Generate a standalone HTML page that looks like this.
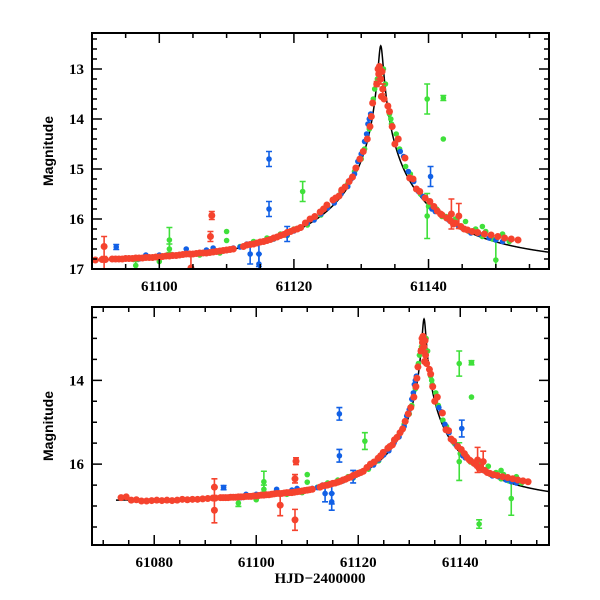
<!DOCTYPE html>
<html><head><meta charset="utf-8"><style>
html,body{margin:0;padding:0;background:#fff;}
svg{display:block;}
.tl{font-family:"Liberation Serif",serif;font-size:15px;font-weight:bold;fill:#000;}
.yl{font-family:"Liberation Sans",sans-serif;font-size:14px;font-weight:bold;fill:#000;}
</style></head><body>
<svg id="chart" width="600" height="600" viewBox="0 0 600 600" xmlns="http://www.w3.org/2000/svg">
<defs>
<clipPath id="clipTop"><rect x="92" y="33" width="457" height="236"/></clipPath>
<clipPath id="clipBot"><rect x="92" y="307" width="457" height="238"/></clipPath>
</defs>
</svg>
<script>
// ---- data ----
const redT = [61073.5,61074.5,61075.5,61076.5,61077.5,61078.5,61079.5,61080.5,61081.5,61082.5,61083.5,61084.5,61085.5,61086.5,61087.5,61088.5,61089.5,61090.5,61091.5,61092,61093,61094,61095,61096,61097,61098,61099,61100,61101,61102,61103,61104,61105,61106,61107,61108,61109,61110,61111,61113,61114,61115,61116,61117,61118,61119,61120,61121,61122.4,61123.9,61124.9,61126.7,61127.6,61128.7,61129.8,61130.9,61131.7,61132.3,61132.6,61132.9,61133.2,61133.96,61135,61137.2,61138.2,61140.2,61141.3,61142,61142.7,61143.3,61144,61145.3,61147.3,61149.3,61151.3,61153.3,61091.8,61091.8,61104.7,61107.8,61107.6,61107.6,61143.4,61144.5,
61093.5,61094.5,61095.5,61096.5,61097.5,61098.5,61099.5,61100.5,61101.5,61102.5,61103.5,61104.5,61105.5,61106.5,61107.5,61108.5,61109.5,61110.5,61112.5,61113.5,61114.5,61115.5,61116.5,61117.5,61118.5,61119.5,61120.5,61121.7,61123.1,61124.4,61125.8,61126.2,61127.1,61128.2,61129.2,61130.3,61131.3,61131.5,61132.5,61132.7,61133,61133.1,61133.4,61134.2,61134.6,61135.5,61136.5,61137.7,61138.7,61139.5,61140.8,61141.8,61143.7,61144.8,61145.8,61146.5,61148.3,61150.3,61152.3];
const redMag = [16.80,16.78,16.86,16.85,16.88,16.88,16.87,16.86,16.87,16.86,16.87,16.86,16.84,16.85,16.84,16.84,16.83,16.82,16.81,16.81,16.80,16.80,16.79,16.79,16.78,16.77,16.77,16.76,16.74,16.73,16.72,16.70,16.70,16.68,16.68,16.66,16.64,16.62,16.60,16.52,16.50,16.46,16.43,16.38,16.33,16.27,16.22,16.17,16.00,15.86,15.72,15.54,15.36,15.16,14.80,14.40,13.68,13.30,13.10,13.20,13.40,13.74,14.50,15.18,15.40,15.65,15.84,15.92,15.98,16.04,16.08,16.20,16.27,16.32,16.38,16.42,16.55,17.10,16.98,15.93,16.35,17.33,15.90,15.94,
16.80,16.80,16.79,16.78,16.78,16.77,16.76,16.75,16.74,16.73,16.71,16.70,16.69,16.68,16.67,16.65,16.63,16.61,16.55,16.51,16.48,16.45,16.41,16.36,16.31,16.25,16.20,16.08,15.95,15.80,15.62,15.58,15.42,15.25,14.98,14.65,14.15,13.95,13.00,12.95,13.55,13.05,13.60,13.85,14.15,14.40,14.78,15.20,15.45,15.58,15.75,15.90,16.10,16.15,16.22,16.25,16.30,16.35,16.40];
const redErr = [0,0,0,0,0,0,0,0,0,0,0,0,0,0,0,0,0,0,0,0,0,0,0,0,0,0,0,0,0,0,0,0,0,0,0,0,0,0,0,0,0,0,0,0,0,0,0,0,0,0,0,0,0,0,0,0,0,0.05,0.1,0.1,0.1,0,0,0,0,0,0,0,0,0,0,0,0,0,0,0,0.2,0.3,0.25,0.08,0.1,0.25,0.3,0.25,
0,0,0,0,0,0,0,0,0,0,0,0,0,0,0,0,0,0,0,0,0,0,0,0,0,0,0,0,0,0,0,0,0,0,0,0,0,0,0,0,0,0,0,0,0,0,0,0,0,0,0,0,0,0,0,0,0,0,0];

const blueT = [61092,61095,61097,61098,61100,61102,61104,61106,61107,61108,61111,61113,61115,61117,61119,61122,61124,61126,61128.5,61129.5,61130.5,61131,61131.4,61136.3,61137.8,61139.2,61140.5,61144.5,61146.3,61149,61151,61093.6,61116.3,61116.3,61114.8,61114.8,61113.5,61119,61140.3,
61094,61096,61099,61101,61103,61105,61109,61110,61112,61114,61116,61118,61120,61121,61123,61125,61127,61128,61129,61130,61130.8,61131.2,61135.8,61137,61138.5,61141,61143,61145,61147.5,61150];
const blueMag = [16.82,16.78,16.80,16.72,16.72,16.74,16.60,16.68,16.62,16.58,16.58,16.50,16.45,16.40,16.32,16.08,15.90,15.68,15.20,14.85,14.45,14.10,13.90,14.75,15.25,15.55,15.80,16.15,16.28,16.38,16.45,16.56,14.80,15.80,16.70,16.90,16.70,16.30,15.15,
16.80,16.79,16.76,16.74,16.72,16.70,16.65,16.63,16.56,16.50,16.44,16.34,16.24,16.18,16.02,15.78,15.50,15.35,15.10,14.70,14.30,14.00,14.65,15.05,15.45,15.85,16.02,16.18,16.30,16.42];
const blueErr = [0,0,0,0,0,0,0,0,0,0,0,0,0,0,0,0,0,0,0,0,0,0,0,0,0,0,0,0,0,0,0,0.05,0.15,0.15,0.25,0.2,0.2,0.15,0.2,
0,0,0,0,0,0,0,0,0,0,0,0,0,0,0,0,0,0,0,0,0,0,0,0,0,0,0,0,0,0];

const greenT = [61106,61109,61112,61114,61116,61118,61120,61123,61125,61127,61129,61130.5,61131.2,61132,61132.8,61133.3,61134.2,61134.5,61135.7,61136.6,61138.8,61140,61142,61143,61144,61146,61148,61148,61151,61152,61096.5,61101.5,61101.5,61100,61110,61110,61121.3,61139.8,61139.8,61142.2,61142.2,61150,61143.7,
61108,61111,61113,61115,61117,61119,61122,61124,61126,61128,61130,61131.8,61132.4,61133.6,61134.4,61135.2,61137.3,61140.2,61141.2,61142.6,61143.5,61144.5,61145.5,61147,61148.5,61149.5];
const greenMag = [16.72,16.68,16.55,16.45,16.38,16.30,16.20,16.00,15.75,15.45,15.05,14.60,14.20,13.40,13.10,13.00,13.90,14.10,14.60,14.95,15.50,15.75,15.95,16.00,16.00,16.25,16.15,16.35,16.30,16.45,16.93,16.42,16.60,16.85,16.25,16.43,15.45,13.60,15.94,13.58,14.40,16.82,17.43,
16.66,16.60,16.52,16.47,16.40,16.33,16.12,15.92,15.65,15.30,14.80,13.60,13.20,13.30,14.00,14.30,15.10,15.70,15.80,15.95,16.05,16.15,16.05,16.20,16.25,16.40];
const greenErr = [0,0,0,0,0,0,0,0,0,0,0,0,0,0,0,0,0,0,0,0,0,0,0,0,0,0,0,0,0,0,0.08,0.25,0.1,0,0,0,0.2,0.3,0.45,0.05,0,0.4,0.1,
0,0,0,0,0,0,0,0,0,0,0,0,0,0,0,0,0,0,0,0,0,0,0,0,0,0];

// model parameters (point-lens with blending)
const modelParams = [61132.9, 22, 0.0156, 0.85, 16.88]; // t0, tE, u0, fs, base

// ---- panels ----
const panels = [
  {name:'top', x0:92, x1:549, y0:33, y1:269, tmin:61090, tmax:61157.9, mTop:12.28, mBot:17.0, cStart:61090,
   xMajor:[61100,61120,61140], xMinorStep:5, yMajor:[13,14,15,16,17], yMinorStep:0.2, clip:'clipTop'},
  {name:'bottom', x0:92, x1:549, y0:307, y1:545, tmin:61067.8, tmax:61157.4, mTop:12.25, mBot:17.93, cStart:61072.5,
   xMajor:[61080,61100,61120,61140], xMinorStep:5, yMajor:[14,16], yMinorStep:0.5, clip:'clipBot'}
];

const NS='http://www.w3.org/2000/svg';
const svg=document.getElementById('chart');
function mk(tag, attrs, parent){const e=document.createElementNS(NS,tag);for(const k in attrs)e.setAttribute(k,attrs[k]);(parent||svg).appendChild(e);return e;}

function modelMag(t){
  const [t0,tE,u0,fs,base]=modelParams;
  const tau=(t-t0)/tE;const u=Math.sqrt(u0*u0+tau*tau);
  const A=(u*u+2)/(u*Math.sqrt(u*u+4));
  return base-2.5*Math.log10(fs*(A-1)+1);
}

const colors={red:'#f5432e',blue:'#1160e6',green:'#3fe03a'};

panels.forEach(p=>{
  const xs=t=>p.x0+(t-p.tmin)/(p.tmax-p.tmin)*(p.x1-p.x0);
  const ys=m=>p.y0+(m-p.mTop)/(p.mBot-p.mTop)*(p.y1-p.y0);
  const g=mk('g',{});
  
  
  const data=mk('g',{'clip-path':'url(#'+p.clip+')'},g);
  
  

  let d='';
  for(let t=p.cStart;t<=p.tmax;t+=0.05){d+=(d?'L':'M')+xs(t).toFixed(2)+','+ys(modelMag(t)).toFixed(2);}
  const curve=mk('path',{d:d,fill:'none',stroke:'#000','stroke-width':1.5},data);
  
  

  const series=[['green',greenT,greenMag,greenErr,2.8],['blue',blueT,blueMag,blueErr,2.8],['red',redT,redMag,redErr,3.5]];
  series.forEach(([c,T,M,E,r])=>{
    const sg=mk('g',{},data);
    
    
    for(let i=0;i<T.length;i++){
      const x=xs(T[i]),y=ys(M[i]);
      if(E[i]>0){
        const ya=ys(M[i]-E[i]),yb=ys(M[i]+E[i]);
        const eb=mk('path',{d:`M${x},${ya}L${x},${yb}M${x-3},${ya}L${x+3},${ya}M${x-3},${yb}L${x+3},${yb}`,stroke:colors[c],'stroke-width':1.6,fill:'none'},sg);
        
        
      }
      const pt=mk('circle',{cx:x,cy:y,r:r,fill:colors[c]},sg);
      
      
    }
  });

  const fr=mk('rect',{x:p.x0,y:p.y0,width:p.x1-p.x0,height:p.y1-p.y0,fill:'none',stroke:'#000','stroke-width':2},g);
  
  

  let td='';
  const t0=Math.ceil(p.tmin/p.xMinorStep)*p.xMinorStep;
  for(let t=t0;t<=p.tmax;t+=p.xMinorStep){
    const x=xs(t);const major=(t%20===0);const L=major?10:5;
    td+=`M${x},${p.y1}L${x},${p.y1-L}M${x},${p.y0}L${x},${p.y0+L}`;
  }
  const mStart=Math.ceil(p.mTop/p.yMinorStep-1e-9)*p.yMinorStep;
  for(let m=mStart;m<=p.mBot+1e-9;m+=p.yMinorStep){
    const y=ys(m);const major=Math.abs(m-Math.round(m))<1e-6 && p.yMajor.includes(Math.round(m));const L=major?10:5;
    td+=`M${p.x0},${y}L${p.x0+L},${y}M${p.x1},${y}L${p.x1-L},${y}`;
  }
  const ticks=mk('path',{d:td,stroke:'#000','stroke-width':1.5,fill:'none'},g);
  
  

  p.xMajor.forEach(t=>{
    const tx=mk('text',{x:xs(t),y:p.y1+22,'text-anchor':'middle',class:'tl'},g);
    tx.textContent=String(t);
    
    
  });
  p.yMajor.forEach(m=>{
    const tx=mk('text',{x:p.x0-8,y:ys(m)+5,'text-anchor':'end',class:'tl'},g);
    tx.textContent=String(m);
    
    
  });
  const yc=(p.y0+p.y1)/2;
  const yt=mk('text',{x:53,y:yc,'text-anchor':'middle',class:'yl',transform:`rotate(-90 53 ${yc})`},g);
  yt.textContent='Magnitude';
  
  
});
const xt=mk('text',{x:320,y:583,'text-anchor':'middle',class:'tl'});
xt.textContent='HJD\u22122400000';


</script>
</body></html>
